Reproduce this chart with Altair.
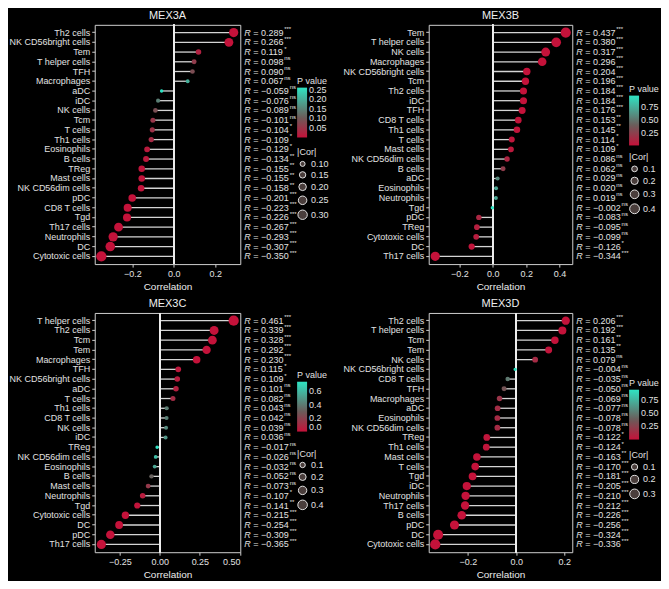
import altair as alt
import pandas as pd

FONT = "Liberation Sans"
TXT = "#e2e2e2"
RED, MID, TEAL = "#c4123a", "#6b5b59", "#2fe3c3"

# ---------------- data ----------------
a_cells = ["Th2 cells", "NK CD56bright cells", "Tem", "T helper cells", "TFH", "Macrophages", "aDC", "iDC",
           "NK cells", "Tcm", "T cells", "Th1 cells", "Eosinophils", "B cells", "TReg", "Mast cells",
           "NK CD56dim cells", "pDC", "CD8 T cells", "Tgd", "Th17 cells", "Neutrophils", "DC", "Cytotoxic cells"]
a_r = [0.289, 0.266, 0.119, 0.098, 0.090, 0.067, -0.059, -0.076, -0.089, -0.101, -0.104, -0.109,
       -0.129, -0.134, -0.155, -0.155, -0.158, -0.201, -0.223, -0.226, -0.267, -0.293, -0.307, -0.350]
a_p = [0.0, 0.0, 0.022, 0.060, 0.084, 0.200, 0.260, 0.145, 0.087, 0.052, 0.046, 0.036,
       0.013, 0.0099, 0.003, 0.003, 0.0025, 0.0001, 0.00002, 0.00002, 0.0, 0.0, 0.0, 0.0]
a_sig = ["***", "***", "*", "ns", "ns", "ns", "ns", "ns", "ns", "ns", "*", "*",
         "*", "**", "**", "**", "**", "***", "***", "***", "***", "***", "***", "***"]

b_cells = ["Tem", "T helper cells", "NK cells", "Macrophages", "NK CD56bright cells", "Tcm", "Th2 cells", "iDC",
           "TFH", "CD8 T cells", "Th1 cells", "T cells", "Mast cells", "NK CD56dim cells", "B cells", "aDC",
           "Eosinophils", "Neutrophils", "Tgd", "pDC", "TReg", "Cytotoxic cells", "DC", "Th17 cells"]
b_r = [0.437, 0.380, 0.317, 0.296, 0.204, 0.196, 0.184, 0.184, 0.176, 0.153, 0.145, 0.114,
       0.109, 0.086, 0.062, 0.029, 0.020, 0.019, -0.002, -0.083, -0.095, -0.099, -0.126, -0.344]
b_p = [0.0, 0.0, 0.0, 0.0, 0.0001, 0.0002, 0.0004, 0.0004, 0.0007, 0.0033, 0.0053, 0.028,
       0.036, 0.098, 0.23, 0.58, 0.70, 0.71, 0.97, 0.11, 0.068, 0.057, 0.015, 0.0]
b_sig = ["***", "***", "***", "***", "***", "***", "***", "***", "***", "**", "**", "*",
         "*", "ns", "ns", "ns", "ns", "ns", "ns", "ns", "ns", "ns", "*", "***"]

c_cells = ["T helper cells", "Th2 cells", "Tcm", "Tem", "Macrophages", "TFH", "NK CD56bright cells", "aDC",
           "T cells", "Th1 cells", "CD8 T cells", "NK cells", "iDC", "TReg", "NK CD56dim cells", "Eosinophils",
           "B cells", "Mast cells", "Neutrophils", "Tgd", "Cytotoxic cells", "DC", "pDC", "Th17 cells"]
c_r = [0.461, 0.339, 0.328, 0.292, 0.230, 0.115, 0.109, 0.101, 0.082, 0.043, 0.042, 0.039,
       0.036, -0.017, -0.026, -0.032, -0.052, -0.073, -0.107, -0.141, -0.215, -0.254, -0.309, -0.365]
c_p = [0.0, 0.0, 0.0, 0.0, 0.0, 0.027, 0.036, 0.052, 0.11, 0.41, 0.42, 0.45,
       0.49, 0.74, 0.62, 0.54, 0.32, 0.16, 0.04, 0.0068, 0.0, 0.0, 0.0, 0.0]
c_sig = ["***", "***", "***", "***", "***", "*", "*", "ns", "ns", "ns", "ns", "ns",
         "ns", "ns", "ns", "ns", "ns", "ns", "*", "**", "***", "***", "***", "***"]

d_cells = ["Th2 cells", "T helper cells", "Tcm", "Tem", "NK cells", "NK CD56bright cells", "CD8 T cells", "TFH",
           "Macrophages", "aDC", "Eosinophils", "NK CD56dim cells", "TReg", "Th1 cells", "Mast cells", "T cells",
           "Tgd", "iDC", "Neutrophils", "Th17 cells", "B cells", "pDC", "DC", "Cytotoxic cells"]
d_r = [0.206, 0.192, 0.161, 0.135, 0.079, -0.004, -0.035, -0.050, -0.069, -0.077, -0.078, -0.078,
       -0.122, -0.124, -0.163, -0.170, -0.181, -0.205, -0.210, -0.212, -0.226, -0.256, -0.324, -0.336]
d_p = [0.0001, 0.0002, 0.002, 0.0094, 0.13, 0.94, 0.50, 0.34, 0.18, 0.14, 0.13, 0.13,
       0.019, 0.017, 0.0017, 0.001, 0.0005, 0.0001, 0.0, 0.0, 0.0, 0.0, 0.0, 0.0]
d_sig = ["***", "***", "**", "**", "ns", "ns", "ns", "ns", "ns", "ns", "ns", "ns",
         "*", "*", "**", "***", "***", "***", "***", "***", "***", "***", "***", "***"]

H = 240


def panel(title, cells, r, p, sig, W, xticks, xfmt, pticks, pfmt, sticks, sfmt, cy, sy):
    df = pd.DataFrame({"cell": cells, "R": r, "P": p, "sig": sig})
    df["absR"] = df["R"].abs()
    df["z"] = 0.0
    lo, hi = min(min(r), 0), max(max(r), 0)
    span = hi - lo
    dom = [lo - 0.05 * span, hi + 0.05 * span]
    pmax = max(p)

    base = alt.Chart(df)
    Y = alt.Y("cell:N", sort=cells, scale=alt.Scale(padding=0.6), axis=alt.Axis(title=None))
    xaxis = alt.Axis(values=xticks, format=xfmt, title="Correlation", grid=False)
    xs = alt.Scale(domain=dom, nice=False, zero=False)

    zero = base.mark_rule(color="#ededed", strokeWidth=1.3).encode(
        x=alt.X("z:Q", scale=xs, axis=xaxis))
    seg = base.mark_rule(color="#d4d4d4", strokeWidth=1.3).encode(
        x=alt.X("z:Q", scale=xs, axis=xaxis), x2="R:Q", y=Y)
    pts = base.mark_circle(opacity=1).encode(
        x=alt.X("R:Q", scale=xs, axis=xaxis), y=Y,
        color=alt.Color("P:Q",
                        scale=alt.Scale(domain=[0, 0.4 * pmax, pmax], range=[RED, MID, TEAL], interpolate="rgb"),
                        legend=alt.Legend(title="P value", orient="none", legendX=W + 57, legendY=cy,
                                          values=pticks, format=pfmt, direction="vertical",
                                          gradientLength=50, gradientThickness=10, labelOverlap=False)),
        size=alt.Size("absR:Q", scale=alt.Scale(domain=[min(df["absR"]), max(df["absR"])], range=[12, 105]),
                      legend=alt.Legend(title="|Cor|", orient="none", legendX=W + 57, legendY=sy,
                                        values=sticks, format=sfmt, symbolType="circle",
                                        symbolFillColor="#4a3e3c", symbolStrokeColor="#e0e0e0",
                                        symbolStrokeWidth=1, rowPadding=0)),
    )
    rl = base.mark_text(align="left", baseline="middle", fontSize=9, fontStyle="italic", color=TXT).encode(
        x=alt.value(W + 4), y=Y, text=alt.value("R"))
    vl = base.transform_calculate(v="'= ' + format(datum.R, '.3f')").mark_text(
        align="left", baseline="middle", fontSize=9, color=TXT).encode(x=alt.value(W + 13), y=Y, text="v:N")
    sp = base.transform_filter("datum.R >= 0").mark_text(
        align="left", baseline="middle", fontSize=6, dy=-3.5, color=TXT).encode(
        x=alt.value(W + 44), y=Y, text="sig:N")
    sn = base.transform_filter("datum.R < 0").mark_text(
        align="left", baseline="middle", fontSize=6, dy=-3.5, color=TXT).encode(
        x=alt.value(W + 49.5), y=Y, text="sig:N")
    return alt.layer(seg, zero, pts, rl, vl, sp, sn).properties(
        width=W, height=H, title=alt.TitleParams(title, anchor="middle"))


pa = panel("MEX3A", a_cells, a_r, a_p, a_sig, 146, [-0.2, 0.0, 0.2], ".1f",
           [0.05, 0.10, 0.15, 0.20, 0.25], ".2f", [0.10, 0.15, 0.20, 0.25, 0.30], ".2f", 52, 124)
pb = panel("MEX3B", b_cells, b_r, b_p, b_sig, 144, [-0.2, 0.0, 0.2, 0.4], ".1f",
           [0.25, 0.50, 0.75], ".2f", [0.1, 0.2, 0.3, 0.4], ".1f", 60, 129)
pc = panel("MEX3C", c_cells, c_r, c_p, c_sig, 146, [-0.25, 0.0, 0.25, 0.5], ".2f",
           [0.0, 0.2, 0.4, 0.6], ".1f", [0.1, 0.2, 0.3, 0.4], ".1f", 58, 137)
pd_ = panel("MEX3D", d_cells, d_r, d_p, d_sig, 144, [-0.2, 0.0, 0.2], ".1f",
            [0.25, 0.50, 0.75], ".2f", [0.1, 0.2, 0.3], ".1f", 66, 139)

chart = alt.concat(pa, pb, pc, pd_, columns=2, spacing=alt.RowColnumber(row=5, column=12)).resolve_scale(
    x="independent", y="independent", color="independent", size="independent"
).resolve_legend(color="independent", size="independent").configure(
    background="black", padding=0, font=FONT
).configure_view(
    stroke="#cfcfcf", strokeWidth=1
).configure_axis(
    domain=False, grid=False, tickColor="#cfcfcf", tickSize=3, labelColor=TXT, labelFontSize=9,
    labelPadding=2, titleColor="#ececec", titleFontSize=10, titleFontWeight="normal", titlePadding=3,
    labelFont=FONT, titleFont=FONT
).configure_legend(
    titleColor=TXT, labelColor=TXT, titleFontSize=9, labelFontSize=9, titleFontWeight="normal",
    titleFont=FONT, labelFont=FONT, titlePadding=2, labelOffset=3
).configure_title(
    fontSize=11, color="#eeeeee", fontWeight="normal", offset=3, font=FONT
)

chart.save("out.html", embed_options={"renderer": "svg", "actions": False})
